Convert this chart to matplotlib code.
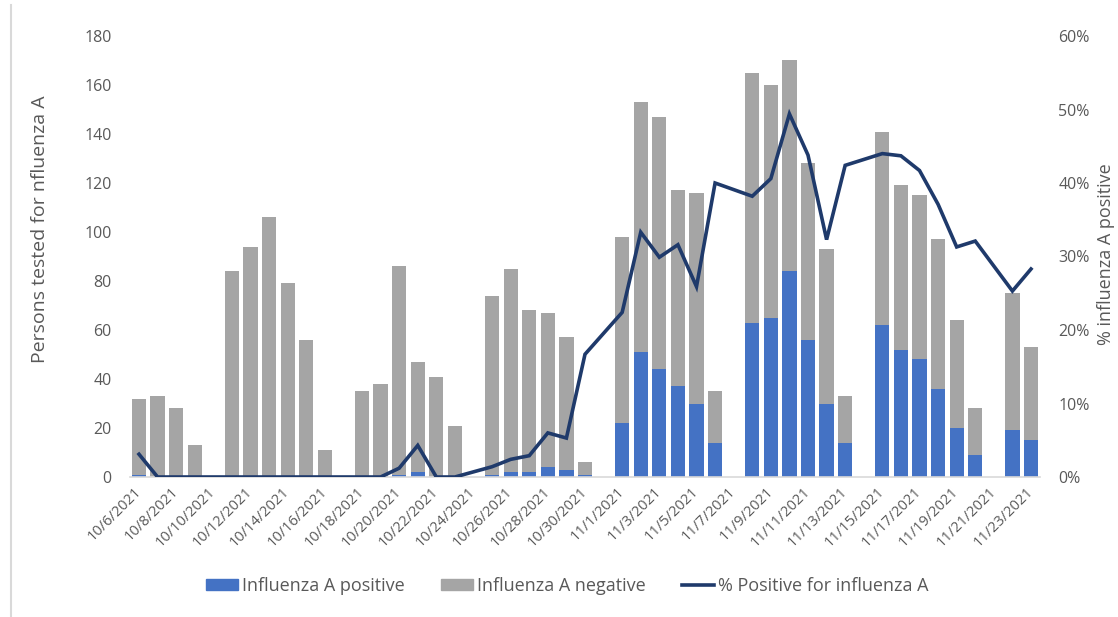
import numpy as np
import matplotlib
matplotlib.use("Agg")
import matplotlib.pyplot as plt
from matplotlib.lines import Line2D

plt.rcParams['font.family'] = ['Open Sans', 'DejaVu Sans']

dates = ["10/6/2021", "10/7/2021", "10/8/2021", "10/9/2021", "10/10/2021", "10/11/2021",
         "10/12/2021", "10/13/2021", "10/14/2021", "10/15/2021", "10/16/2021", "10/17/2021",
         "10/18/2021", "10/19/2021", "10/20/2021", "10/21/2021", "10/22/2021", "10/23/2021",
         "10/24/2021", "10/25/2021", "10/26/2021", "10/27/2021", "10/28/2021", "10/29/2021",
         "10/30/2021", "10/31/2021", "11/1/2021", "11/2/2021", "11/3/2021", "11/4/2021",
         "11/5/2021", "11/6/2021", "11/7/2021", "11/8/2021", "11/9/2021", "11/10/2021",
         "11/11/2021", "11/12/2021", "11/13/2021", "11/14/2021", "11/15/2021", "11/16/2021",
         "11/17/2021", "11/18/2021", "11/19/2021", "11/20/2021", "11/21/2021", "11/22/2021",
         "11/23/2021"]

positive = [1, 0, 0, 0, 0, 0, 0, 0, 0, 0, 0, 0, 0, 0, 1, 2, 0, 0, 0, 1, 2, 2, 4, 3, 1, 0,
            22, 51, 44, 37, 30, 14, 0, 63, 65, 84, 56, 30, 14, 0, 62, 52, 48, 36, 20, 9, 0, 19, 15]

negative = [31, 33, 28, 13, 0, 84, 94, 106, 79, 56, 11, 0, 35, 38, 85, 45, 41, 21, 0, 73, 83,
            66, 63, 54, 5, 0, 76, 102, 103, 80, 86, 21, 0, 102, 95, 86, 72, 63, 19, 0, 79, 67,
            67, 61, 44, 19, 0, 56, 38]

pct_positive = [3.1, 0, 0, 0, np.nan, 0, 0, 0, 0, 0, 0, np.nan, 0, 0, 1.2, 4.3, 0, 0, np.nan,
                1.4, 2.4, 2.9, 6.0, 5.3, 16.7, np.nan, 22.4, 33.3, 29.9, 31.6, 25.9, 40.0, np.nan,
                38.2, 40.6, 49.4, 43.8, 32.3, 42.4, np.nan, 44.0, 43.7, 41.7, 37.1, 31.3, 32.1,
                np.nan, 25.3, 28.3]

left_ticks = [0, 20, 40, 60, 80, 100, 120, 140, 160, 180]
right_ticks = [0, 10, 20, 30, 40, 50, 60]

BLUE = '#4472C4'
GRAY = '#A5A5A5'
NAVY = '#1F3A6B'
TXT = '#595959'

W, H = 1118, 617
fig = plt.figure(figsize=(W / 100, H / 100), dpi=100)
ax = fig.add_axes([129.7 / W, (H - 477) / H, 910.6 / W, 441 / H])

x = np.arange(len(dates))
pos = np.array(positive)
neg = np.array(negative)
ax.bar(x, pos, width=0.77, color=BLUE, zorder=2)
ax.bar(x, neg, bottom=pos, width=0.77, color=GRAY, zorder=2)

ax.set_xlim(-0.5, len(dates) - 0.5)
ax.set_ylim(0, 180)
ax.set_yticks(left_ticks)
ax.set_yticklabels([str(t) for t in left_ticks])
ax.set_xticks(x[::2])
ax.set_xticklabels(dates[::2], rotation=45, ha='right', va='center',
                   rotation_mode='anchor')
ax.tick_params(axis='x', length=0, pad=9, labelsize=10.5, labelcolor=TXT)
ax.tick_params(axis='y', length=0, pad=13, labelsize=11.5, labelcolor=TXT)
for s in ['top', 'right', 'left']:
    ax.spines[s].set_visible(False)
ax.spines['bottom'].set_color('#D9D9D9')
ax.spines['bottom'].set_linewidth(1.2)

ax2 = ax.twinx()
pct = np.array(pct_positive, dtype=float)
m = ~np.isnan(pct)
ax2.plot(x[m], pct[m], color=NAVY, lw=2.6, solid_joinstyle='miter', zorder=3)
ax2.set_ylim(0, 60)
ax2.set_yticks(right_ticks)
ax2.set_yticklabels([f"{t}%" for t in right_ticks])
ax2.tick_params(axis='y', length=0, pad=13, labelsize=11.5, labelcolor=TXT)
for s in ['top', 'right', 'left', 'bottom']:
    ax2.spines[s].set_visible(False)

fig.text(40 / W, 1 - 229 / H, "Persons tested for nfluenza A", rotation=90,
         ha='center', va='center', fontsize=14, color=TXT)
fig.text(1106 / W, 1 - 254 / H, "% influenza A positive", rotation=90,
         ha='center', va='center', fontsize=13, color=TXT)

handles = [plt.Rectangle((0, 0), 1, 1, color=BLUE),
           plt.Rectangle((0, 0), 1, 1, color=GRAY),
           Line2D([0], [0], color=NAVY, lw=2.6)]
labels = ["Influenza A positive", "Influenza A negative", "% Positive for influenza A"]
leg = fig.legend(handles, labels, loc='center', bbox_to_anchor=(567 / W, 31 / H),
                 ncol=3, frameon=False, fontsize=13, handlelength=1.8, handleheight=0.6,
                 handletextpad=0.2, columnspacing=2.0, labelcolor=TXT)

fig.add_artist(Line2D([11 / W, 11 / W], [0, 1 - 5 / H], color='#D9D9D9', lw=1.5,
                      transform=fig.transFigure))

fig.savefig("out.png", dpi=100)
